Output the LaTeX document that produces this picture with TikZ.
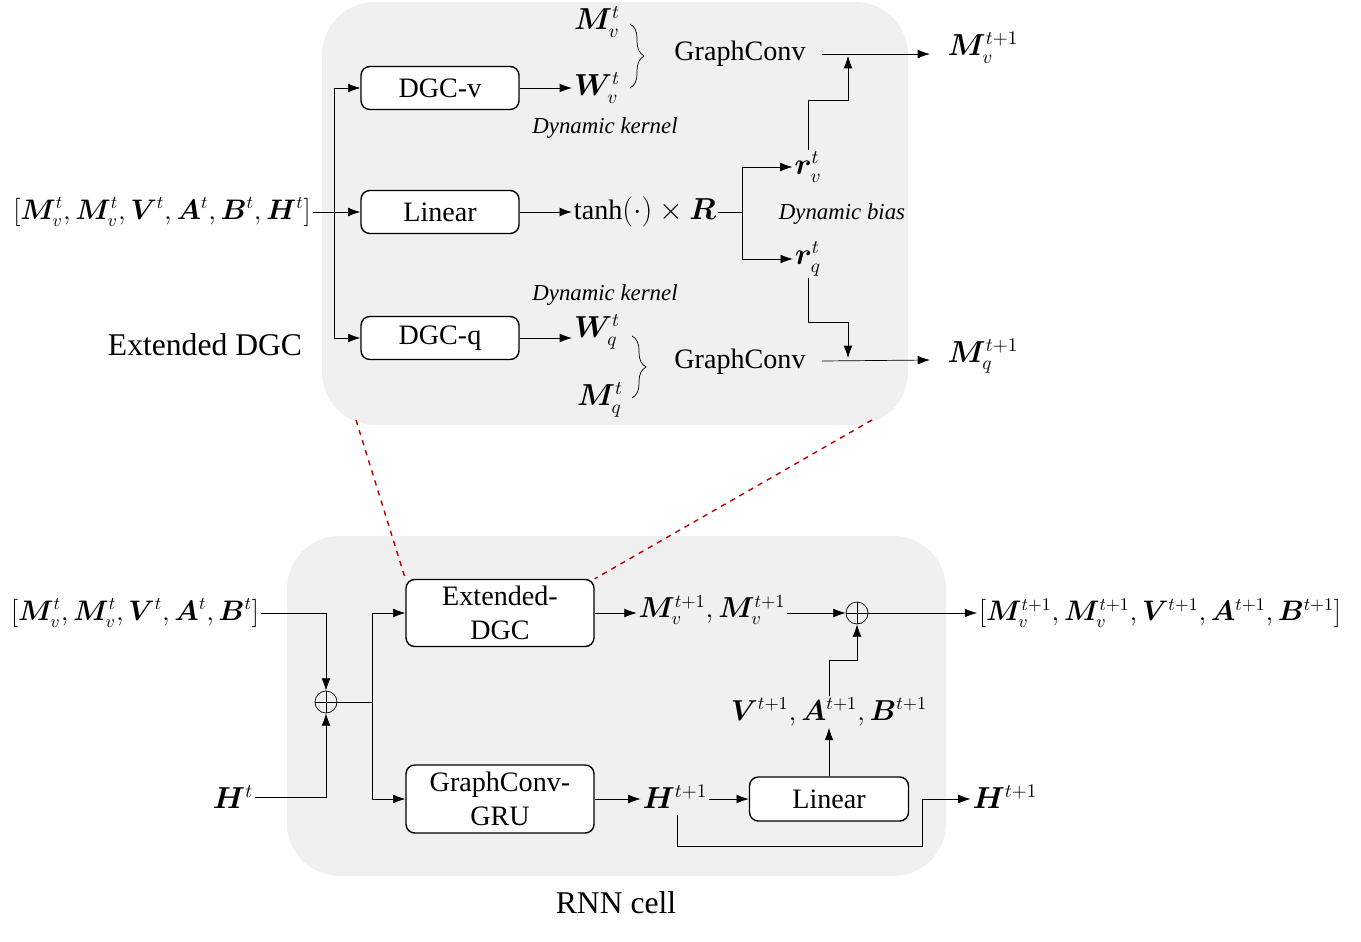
\documentclass[tikz,border=0pt]{standalone}
\usepackage{amsmath,bm}
\usepackage{fontspec}
\setmainfont{Liberation Serif}
\usetikzlibrary{arrows.meta,decorations.pathreplacing}
\begin{document}
\begin{tikzpicture}[x=0.02cm,y=-0.02cm,
  every node/.style={font=\fontsize{16}{19}\selectfont},
  blk/.style={draw,rounded corners=5pt,fill=white,thick,inner sep=0pt},
  arr/.style={-{Latex[length=7pt,width=5pt]}},
  panel/.style={fill=black!6,draw=none,rounded corners=30pt},
  lbl/.style={inner sep=1pt},
  it/.style={font=\fontsize{13}{15}\selectfont\itshape},
  op/.style={circle,draw,minimum size=0.44cm,inner sep=0pt,path picture={\draw (path picture bounding box.west)--(path picture bounding box.east) (path picture bounding box.north)--(path picture bounding box.south);}},
  rd/.style={draw=red!75!black,dashed,thick}]
\useasboundingbox (0,0) rectangle (1361,942);
\fill[panel] (322,2) rectangle (908,425);
\fill[panel] (287,536) rectangle (946,876);
% top
\node[blk,minimum width=3.16cm,minimum height=0.86cm] (dv) at (440,88) {DGC-v};
\node[blk,minimum width=3.16cm,minimum height=0.86cm] (li) at (440,212) {Linear};
\node[blk,minimum width=3.16cm,minimum height=0.86cm] (dq) at (440,338) {DGC-q};
\node[lbl,scale=0.93] (in1) at (162,212) {$[\bm{M}_v^t,\bm{M}_v^t,\bm{V}^t,\bm{A}^t,\bm{B}^t,\bm{H}^t]$};
\coordinate (s1) at (334,212);
\draw[arr] (in1.east) -- (li.west);
\draw[arr] (s1) |- (dv.west);
\draw[arr] (s1) |- (dq.west);
\node[lbl] (wv) at (597,88) {$\bm{W}_v^t$};
\node[lbl] (mv) at (597,22) {$\bm{M}_v^t$};
\draw[arr] (dv.east) -- (wv.west |- dv.east);
\draw[decorate,decoration={brace,amplitude=8pt}] (630,24) -- (630,88);
\node[lbl] (gc1) at (740,54) {GraphConv};
\node[lbl] (mv1) at (983,48) {$\bm{M}_v^{t+1}$};
\draw[arr] (822,54) -- (930,54);
\node[it] at (605,128) {Dynamic kernel};
\node[lbl] (th) at (645,212) {$\tanh(\cdot)\times\bm{R}$};
\draw[arr] (li.east) -- (th.west);
\coordinate (s2) at (742,212);
\draw (th.east) -- (s2);
\node[lbl] (rv) at (808,167) {$\bm{r}_v^t$};
\node[lbl] (rq) at (808,259) {$\bm{r}_q^t$};
\draw[arr] (s2) |- (rv.west);
\draw[arr] (s2) |- (rq.west);
\node[it] at (842,214) {Dynamic bias};
\draw[arr] (rv.north) -- (808,100) -- (848,100) -- (848,56);
\draw[arr] (rq.south) -- (808,322) -- (848,322) -- (848,358);
\node[it] at (605,295) {Dynamic kernel};
\node[lbl] (wq) at (597,332) {$\bm{W}_q^t$};
\node[lbl] (mq) at (600,400) {$\bm{M}_q^t$};
\draw[arr] (dq.east) -- (wq.west |- dq.east);
\draw[decorate,decoration={brace,amplitude=8pt}] (632,336) -- (632,398);
\node[lbl] (gc2) at (740,362) {GraphConv};
\node[lbl] (mq1) at (983,356) {$\bm{M}_q^{t+1}$};
\draw[arr] (822,361) -- (930,360);
\node at (205,345) {\fontsize{18}{21}\selectfont Extended DGC};
% bottom
\node[blk,minimum width=3.76cm,minimum height=1.34cm,align=center] (ed) at (500,613) {Extended-\\DGC};
\node[blk,minimum width=3.76cm,minimum height=1.36cm,align=center] (gru) at (500,799) {GraphConv-\\GRU};
\draw[rd] (356,420) -- (ed.north west);
\draw[rd] (872,420) -- (ed.north east);
\node[lbl,scale=0.93] (in2) at (135,613) {$[\bm{M}_v^t,\bm{M}_v^t,\bm{V}^t,\bm{A}^t,\bm{B}^t]$};
\node[op] (o1) at (326,702) {};
\node[lbl] (ht) at (233,797) {$\bm{H}^t$};
\draw[arr] (in2.east) -| (o1.north);
\draw[arr] (ht.east) -| (o1.south);
\coordinate (s3) at (372,702);
\draw (o1.east) -- (s3);
\draw[arr] (s3) |- (ed.west);
\draw[arr] (s3) |- (gru.west);
\node[lbl,scale=0.95] (mm) at (712,610) {$\bm{M}_v^{t+1},\bm{M}_v^{t+1}$};
\draw[arr] (ed.east) -- (mm.west |- ed.east);
\node[op] (o2) at (857,613) {};
\draw[arr] (mm.east |- o2) -- (o2.west);
\node[lbl,scale=0.93] (out) at (1160,613) {$[\bm{M}_v^{t+1},\bm{M}_v^{t+1},\bm{V}^{t+1},\bm{A}^{t+1},\bm{B}^{t+1}]$};
\draw[arr] (o2.east) -- (out.west);
\node[lbl,scale=0.95] (vab) at (829,712) {$\bm{V}^{t+1},\bm{A}^{t+1},\bm{B}^{t+1}$};
\draw[arr] (vab.north) -- (829,660) -- (857,660) -- (o2.south);
\node[blk,minimum width=3.18cm,minimum height=0.88cm] (li2) at (829,799) {Linear};
\draw[arr] (li2.north) -- (vab.south);
\node[lbl] (h1) at (675,797) {$\bm{H}^{t+1}$};
\draw[arr] (gru.east) -- (h1.west |- gru.east);
\draw[arr] (h1.east |- li2.west) -- (li2.west);
\node[lbl] (h2) at (1005,797) {$\bm{H}^{t+1}$};
\draw[arr] (677,815) -- (677,846) -- (922,846) -- (922,799) -- (h2.west |- 0,799);
\node at (616,903) {\fontsize{18}{21}\selectfont RNN cell};
\end{tikzpicture}
\end{document}
